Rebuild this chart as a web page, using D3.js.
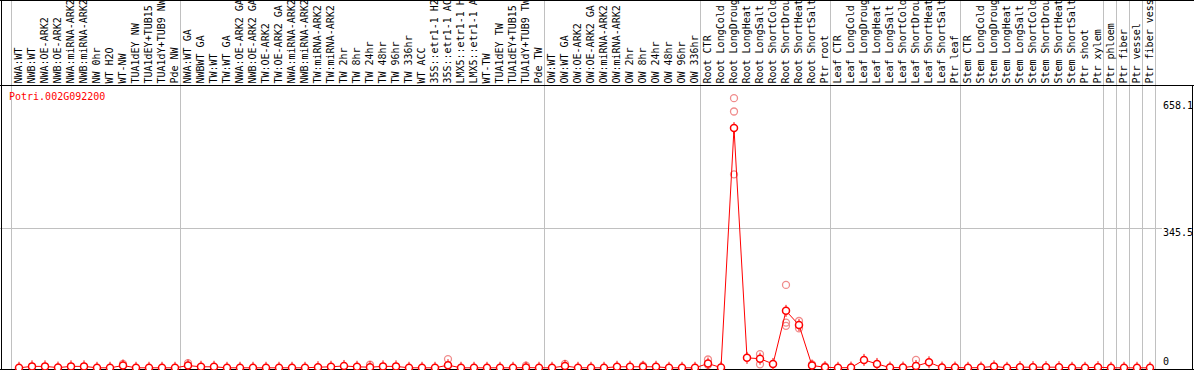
<!DOCTYPE html>
<html><head><meta charset="utf-8">
<script src="https://cdn.jsdelivr.net/npm/d3@7"></script>
<style>
html,body{margin:0;padding:0;background:#fff;}
svg{display:block;}
text{font-family:"DejaVu Sans Mono",monospace;font-size:10px;}
</style></head>
<body>
<svg id="chart" width="1194" height="370"></svg>
<script>
const geneId = "Potri.002G092200";
const categories = [
 "NWA:WT","NWB:WT","NWA:OE-ARK2","NWB:OE-ARK2","NWA:miRNA-ARK2","NWB:miRNA-ARK2","NW 0hr","WT H2O","WT-NW",
 "TUA1dEY NW","TUA1dEY+TUB15 NW","TUA1dY+TUB9 NW","Pde NW",
 "NWA:WT GA","NWBWT GA","TW:WT","TW:WT GA","NWA:OE-ARK2 GA","NWB:OE-ARK2 GA","TW:OE-ARK2","TW:OE-ARK2 GA",
 "NWA:miRNA-ARK2 GA","NWB:miRNA-ARK2 GA","TW:miRNA-ARK2","TW:miRNA-ARK2 GA","TW 2hr","TW 8hr","TW 24hr","TW 48hr",
 "TW 96hr","TW 336hr","WT ACC","35S::etr1-1 H2O","35S::etr1-1 ACC","LMX5::etr1-1 H2O","LMX5::etr1-1 ACC","WT-TW",
 "TUA1dEY TW","TUA1dEY+TUB15 TW","TUA1dY+TUB9 TW","Pde TW",
 "OW:WT","OW:WT GA","OW:OE-ARK2","OW:OE-ARK2 GA","OW:miRNA-ARK2","OW:miRNA-ARK2 GA","OW 2hr","OW 8hr","OW 24hr",
 "OW 48hr","OW 96hr","OW 336hr",
 "Root CTR","Root LongCold","Root LongDrought","Root LongHeat","Root LongSalt","Root ShortCold","Root ShortDrought",
 "Root ShortHeat","Root ShortSalt","Ptr root",
 "Leaf CTR","Leaf LongCold","Leaf LongDrought","Leaf LongHeat","Leaf LongSalt","Leaf ShortCold","Leaf ShortDrought",
 "Leaf ShortHeat","Leaf ShortSalt","Ptr leaf",
 "Stem CTR","Stem LongCold","Stem LongDrought","Stem LongHeat","Stem LongSalt","Stem ShortCold","Stem ShortDrought",
 "Stem ShortHeat","Stem ShortSalt","Ptr shoot",
 "Ptr xylem","Ptr phloem","Ptr fiber","Ptr vessel","Ptr fiber vessel"
];
const meanValues = [
 0.5,4,4,1,4,4,0.5,0.5,6,0.5,0.5,0.5,0.5,
 6,3,3,0.5,0.5,0.5,0.5,0.5,0.5,0.5,2,3,5,3,2,4,4,0.5,0.5,0.5,7,0.5,0.5,0.5,0.5,0.5,1,0.5,
 0.5,5,0.5,0.5,0.5,3,3,3,3,0.5,0.5,0.5,
 11,1,592,25,23,10,141,106,6,2,
 0.5,1,20,10,1,1,5,14,1,1,
 0.5,1,4,0.5,2,2,2,2,0.5,0.5,
 2,0.5,0.5,0.5,0.5
];
// visible replicate points: [category index, value]
const replicatePoints = [
 [8,10],[13,12],[27,8],[33,22],[39,6],[42,10],[48,6],
 [53,21],[53,8],[55,666],[55,633],[55,478],[57,34],[57,9],
 [59,205],[59,112],[59,104],[60,116],[60,98],[61,9],[62,4],[69,20]
];
// category index where each boxed group starts (last = end)
const groupStarts = [0,13,41,53,63,73,84,85,86,87,88];
const yTicks = [658.1, 345.5, 0];
const gridValues = [345.5];

const W = 1194, H = 370, headerH = 85;
const svg = d3.select("#chart");
const x = d3.scalePoint().domain(d3.range(categories.length)).range([19, 1150]);
const y = d3.scaleLinear().domain([0, 345.5]).range([368, 228]);
const step = x.step();

// group separators
svg.append("g").selectAll("line").data(groupStarts).join("line")
  .attr("x1", g => Math.floor(x(0) + step*g - 7.5) + 0.5)
  .attr("x2", g => Math.floor(x(0) + step*g - 7.5) + 0.5)
  .attr("y1", 0).attr("y2", H)
  .attr("stroke", "#c0c0c0").attr("stroke-width", 1);

// horizontal grid
svg.append("g").selectAll("line").data(gridValues).join("line")
  .attr("x1", 0).attr("x2", 1162)
  .attr("y1", d => Math.round(y(d)) + 0.5).attr("y2", d => Math.round(y(d)) + 0.5)
  .attr("stroke", "#c0c0c0");

// frame
svg.append("line").attr("x1",0).attr("x2",W).attr("y1",0.5).attr("y2",0.5).attr("stroke","#000");
svg.append("line").attr("x1",0).attr("x2",W).attr("y1",headerH+0.5).attr("y2",headerH+0.5).attr("stroke","#000");
svg.append("line").attr("x1",0).attr("x2",W).attr("y1",369.5).attr("y2",369.5).attr("stroke","#000");
svg.append("line").attr("x1",1.5).attr("x2",1.5).attr("y1",0).attr("y2",H).attr("stroke","#000");
svg.append("line").attr("x1",1192.5).attr("x2",1192.5).attr("y1",headerH).attr("y2",H).attr("stroke","#000");

// category labels (rotated)
svg.append("g").selectAll("text").data(categories).join("text")
  .attr("transform", (d,i) => `translate(${x(i)+3},83.5) rotate(-90)`)
  .attr("fill", "#000")
  .text(d => d);

// gene id
svg.append("text").attr("x", 9).attr("y", 100).attr("fill", "#ff0000").text(geneId);

// y tick labels
svg.append("g").selectAll("text").data(yTicks).join("text")
  .attr("x", 1163)
  .attr("y", d => d === 0 ? y(d) - 3 : y(d) + 8)
  .attr("fill", "#000")
  .text(d => d === 0 ? "0" : d3.format(".1f")(d));

// replicate points
svg.append("g").selectAll("circle").data(replicatePoints).join("circle")
  .attr("cx", d => x(d[0])).attr("cy", d => y(d[1])).attr("r", 3.5)
  .attr("fill", "none").attr("stroke", "rgb(240,140,140)").attr("stroke-width", 1.3);

// mean line
const line = d3.line().x((d,i) => x(i)).y(d => y(d));
svg.append("path").datum(meanValues).attr("d", line)
  .attr("fill", "none").attr("stroke", "#ff0000").attr("stroke-width", 1);

// mean markers with small ticks
const mg = svg.append("g").selectAll("g").data(meanValues).join("g")
  .attr("transform", (d,i) => `translate(${x(i)},${y(d)})`);
mg.append("line").attr("x1",0).attr("x2",0).attr("y1",-6).attr("y2",6)
  .attr("stroke","#ff0000").attr("stroke-width",1);
mg.append("circle").attr("r", 3.5).attr("fill", "#fff")
  .attr("stroke", "#ff0000").attr("stroke-width", 1.5);
</script>
</body></html>
